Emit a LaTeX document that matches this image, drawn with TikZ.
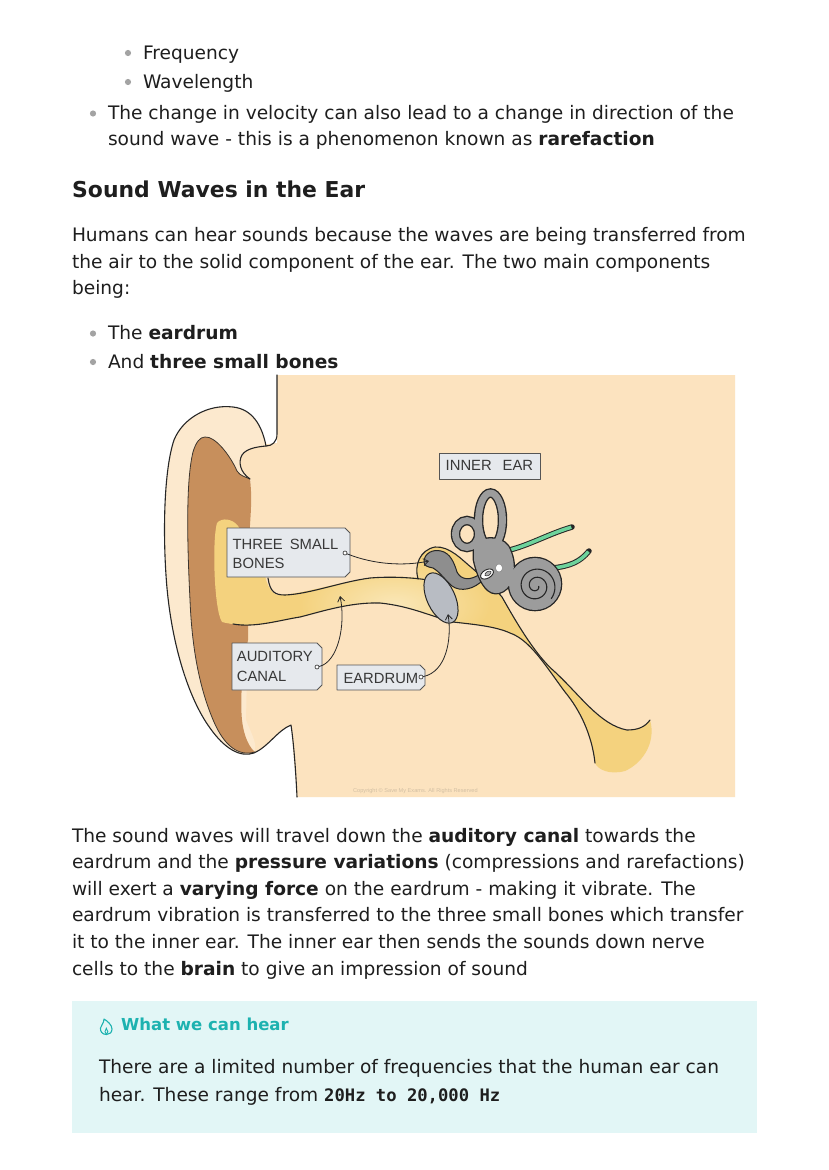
\documentclass[tikz,border=0pt]{standalone}
\usepackage{fontspec}
\usetikzlibrary{arrows.meta}
\newfontfamily\bodyfam{DejaVu Sans}
\newfontfamily\codefam{DejaVu Sans Mono}
\newfontfamily\lblfam{Liberation Sans}
\definecolor{txt}{HTML}{1E1E1E}
\definecolor{bul}{HTML}{A3A3A3}
\definecolor{face}{HTML}{FCE3BF}
\definecolor{rim}{HTML}{FCE9CE}
\definecolor{brownc}{HTML}{C78F5C}
\definecolor{canal}{HTML}{F4D27E}
\definecolor{canallight}{HTML}{FAE7B8}
\definecolor{ol}{HTML}{262626}
\definecolor{bone}{HTML}{9C9C9C}
\definecolor{drum}{HTML}{B8BCC3}
\definecolor{mall}{HTML}{8E8E8E}
\definecolor{nerve}{HTML}{6DD39C}
\definecolor{boxfill}{HTML}{E6E9ED}
\definecolor{boxline}{HTML}{555555}
\definecolor{lbltxt}{HTML}{383838}
\definecolor{callfill}{HTML}{E2F6F6}
\definecolor{tealc}{HTML}{1DB2B0}
\definecolor{copyc}{HTML}{D2BFA3}
\tikzset{
  body/.style={anchor=base west, inner sep=0pt, outer sep=0pt, text=txt,
    font=\bodyfam\fontsize{18.6}{26}\selectfont},
  headsty/.style={anchor=base west, inner sep=0pt, text=txt,
    font=\bodyfam\bfseries\fontsize{21.9}{26}\selectfont},
  lbl/.style={anchor=base west, inner sep=0pt, text=lbltxt,
    font=\lblfam\fontsize{14.8}{18}\selectfont},
  outl/.style={draw=ol, line width=1.1pt, line join=round, line cap=round},
  boxsty/.style={fill=boxfill, draw=boxline, line width=0.9pt, line join=round},
  ptr/.style={draw=ol, line width=0.8pt, -{Straight Barb[length=5pt,width=7pt]}},
  dotn/.style={circle, fill=white, draw=ol, line width=0.6pt, inner sep=0pt, minimum size=4pt},
}
\newcommand\tagbox[4]{\filldraw[boxsty] (#1,#2) -- ({#3-5},#2) -- (#3,{#2+5}) -- (#3,{#4-5}) -- ({#3-5},#4) -- (#1,#4) -- cycle;}
\begin{document}
\begin{tikzpicture}[x=1pt,y=-1pt]
\useasboundingbox (0,0) rectangle (828,1170);
\fill[white] (0,0) rectangle (828,1170);

% ---------- top text ----------
\fill[bul] (128,53) circle[radius=3.1pt];
\node[body] (t1) at (143,59) {Frequency};
\fill[bul] (128,82) circle[radius=3.1pt];
\node[body] (t2) at (143,88) {Wavelength};
\fill[bul] (93,113.5) circle[radius=3.1pt];
\node[body] (t3) at (108,119.5) {The change in velocity can also lead to a change in direction of the};
\node[body] (t4) at (108,145.5) {sound wave - this is a phenomenon known as \textbf{rarefaction}};
\node[headsty] (h1) at (72,197) {Sound Waves in the Ear};
\node[body] (p1) at (72,241.5) {Humans can hear sounds because the waves are being transferred from};
\node[body] (p2) at (72,268) {the air to the solid component of the ear. The two main components};
\node[body] (p3) at (72,294) {being:};
\fill[bul] (93,333.5) circle[radius=3.1pt];
\node[body] (b1) at (108,339.5) {The \textbf{eardrum}};
\fill[bul] (93,362) circle[radius=3.1pt];
\node[body] (b2) at (108,368) {And \textbf{three small bones}};

% ---------- diagram ----------
% face
\fill[face] (277,375) -- (735,375) -- (735,797) -- (297,797) -- (291,725)
  .. controls (278,730) and (268,747) .. (254,753) -- (238,740) -- (238,447) -- (277,443) -- cycle;
% ear rim
\fill[rim] (266,446) .. controls (262,425) and (252,409) .. (233,407)
  .. controls (208,404) and (183,418) .. (174,440)
  .. controls (164,470) and (163,530) .. (166,575)
  .. controls (170,640) and (188,698) .. (210,728)
  .. controls (224,748) and (240,758) .. (254,753)
  .. controls (258,745) and (252,735) .. (246,720) -- (251,480)
  .. controls (240,472) and (238,462) .. (242,455)
  .. controls (246,449) and (255,447) .. (266,446) -- cycle;
% brown concha
\fill[brownc] (205,437) .. controls (215,436) and (230,455) .. (237,471)
  .. controls (240,476) and (246,477) .. (250,479)
  .. controls (252,495) and (251,510) .. (250,525) -- (248,640)
  .. controls (242,670) and (240,700) .. (242,720)
  .. controls (244,738) and (250,748) .. (255,752)
  .. controls (238,757) and (224,745) .. (214,722)
  .. controls (200,690) and (192,650) .. (190,600)
  .. controls (187,540) and (186,480) .. (193,452)
  .. controls (196,442) and (200,437) .. (205,437) -- cycle;
\draw[draw=ol!85!brownc, line width=0.8pt, line join=round] (250,479) .. controls (246,477) and (240,476) .. (237,471)
  .. controls (230,455) and (215,436) .. (205,437)
  .. controls (200,437) and (196,442) .. (193,452)
  .. controls (186,480) and (187,540) .. (190,600)
  .. controls (192,650) and (200,690) .. (214,722)
  .. controls (224,745) and (238,757) .. (255,752);
% ear + head outlines
\draw[outl] (277,375) -- (277,434) .. controls (277,442) and (272,446) .. (266,446)
  .. controls (262,425) and (252,409) .. (233,407)
  .. controls (208,404) and (183,418) .. (174,440)
  .. controls (164,470) and (163,530) .. (166,575)
  .. controls (170,640) and (188,698) .. (210,728)
  .. controls (224,748) and (240,758) .. (254,753)
  .. controls (268,747) and (278,730) .. (291,725)
  .. controls (294,745) and (296,775) .. (297,797);
\draw[outl] (266,446) .. controls (255,447) and (246,449) .. (242,455)
  .. controls (238,462) and (240,472) .. (250,479);

% canal / middle ear / tube
\def\canalpath{(217,523) .. controls (222,517) and (233,519) .. (238,526) -- (262,560)
  .. controls (265,575) and (266,590) .. (277,595)
  .. controls (300,595) and (340,582) .. (370,578)
  .. controls (395,576) and (410,577) .. (418,578)
  .. controls (414,565) and (420,550) .. (435,547)
  .. controls (450,546) and (462,560) .. (472,568)
  .. controls (480,575) and (492,585) .. (502,597)
  .. controls (515,620) and (535,655) .. (555,672)
  .. controls (580,695) and (600,725) .. (627,730)
  .. controls (638,730) and (645,727) .. (650,720)
  .. controls (656,740) and (645,762) .. (625,771)
  .. controls (610,775) and (598,770) .. (595,763)
  .. controls (592,735) and (580,710) .. (565,692)
  .. controls (545,665) and (530,640) .. (510,633)
  .. controls (495,626) and (470,624) .. (453,622)
  .. controls (430,616) and (410,606) .. (380,603)
  .. controls (350,602) and (320,612) .. (300,617)
  .. controls (270,624) and (245,628) .. (222,622)
  .. controls (214,610) and (212,540) .. (217,523) -- cycle}
\fill[canal] \canalpath;
\begin{scope}
  \clip \canalpath;
  \shade[inner color=canallight, outer color=canal] (395,605) ellipse[x radius=95pt, y radius=45pt];
\end{scope}
\draw[outl] (268,578) .. controls (270,592) and (275,595) .. (285,595)
  .. controls (310,594) and (340,582) .. (370,578)
  .. controls (395,576) and (420,578) .. (440,582);
\draw[outl] (418,579) .. controls (414,565) and (420,550) .. (435,547)
  .. controls (450,546) and (462,560) .. (472,568)
  .. controls (480,575) and (492,585) .. (502,597)
  .. controls (515,620) and (535,655) .. (555,672)
  .. controls (580,695) and (600,725) .. (627,730)
  .. controls (638,730) and (645,727) .. (650,720);
\draw[outl] (233,624) .. controls (255,628) and (280,620) .. (300,617)
  .. controls (320,612) and (350,602) .. (380,603)
  .. controls (410,606) and (430,616) .. (453,622)
  .. controls (470,624) and (495,626) .. (510,633)
  .. controls (530,640) and (545,665) .. (565,692)
  .. controls (580,710) and (592,735) .. (595,763);

% ossicles
\filldraw[fill=mall, draw=ol, line width=1pt, line join=round]
  (424,562) .. controls (424,553) and (433,549) .. (441,551)
  .. controls (450,553) and (454,562) .. (457,572)
  .. controls (461,580) and (470,581) .. (480,574)
  -- (484,579)
  .. controls (474,590) and (460,592) .. (452,586)
  .. controls (445,580) and (440,572) .. (433,568)
  .. controls (428,567) and (424,566) .. (424,562) -- cycle;
\filldraw[fill=drum, draw=ol, line width=1pt, rotate around={25:(441,598)}] (441,598) ellipse[x radius=14pt, y radius=27pt];

% nerves
\draw[ol, line width=5.5pt, line cap=round] (500,552) .. controls (525,548) and (545,535) .. (572,527);
\draw[nerve, line width=3.5pt] (500,552) .. controls (525,548) and (545,535) .. (571.3,527.2);
\draw[ol, line width=5.5pt, line cap=round] (553,568) .. controls (570,566) and (580,562) .. (589,551);
\draw[nerve, line width=3.5pt] (553,568) .. controls (570,566) and (580,562) .. (588.4,551.6);

% inner ear: outlines first, then fills
\def\vestpath{(474,548) .. controls (478,536) and (500,535) .. (508,546)
  .. controls (513,555) and (515,565) .. (513,575)
  .. controls (511,590) and (497,598) .. (488,590)
  .. controls (481,584) and (476,570) .. (474,560) -- cycle}
\draw[ol, line width=9.5pt] (490.5,520) ellipse[x radius=12pt, y radius=27pt];
\draw[ol, line width=9.5pt] (467,534) ellipse[x radius=11.5pt, y radius=13.5pt];
\draw[ol, line width=2.6pt] \vestpath;
\draw[ol, line width=2.6pt] (535,584) circle[radius=26pt];
\draw[bone, line width=6.8pt] (490.5,520) ellipse[x radius=12pt, y radius=27pt];
\draw[bone, line width=6.8pt] (467,534) ellipse[x radius=11.5pt, y radius=13.5pt];
\fill[bone] \vestpath;
\fill[bone] (535,584) circle[radius=26pt];
\draw[ol, line width=1.1pt] plot[domain=0:760, samples=130, smooth] ({536+(2.5+\x/44)*cos(\x)}, {586+(2.5+\x/44)*sin(\x)});
\filldraw[fill=white, draw=ol!60, line width=0.4pt] (499,568) ellipse[x radius=3.5pt, y radius=4pt];
% stapes
\filldraw[fill=white, draw=ol, line width=0.9pt, rotate around={30:(487,574)}] (487,574) ellipse[x radius=7pt, y radius=4.2pt];
\filldraw[fill=bone!80, draw=ol, line width=0.5pt, rotate around={30:(488,573.5)}] (488,573.5) ellipse[x radius=3.5pt, y radius=2pt];

% copyright
\node[anchor=base west, inner sep=0pt, text=copyc, font=\lblfam\fontsize{5.6}{6}\selectfont] (copy) at (353,792) {Copyright \textcopyright{} Save My Exams. All Rights Reserved};

% labels
\filldraw[boxsty] (439,453) rectangle (540,479);
\node[lbl] (inner) at (445.5,470.7) {INNER\hspace{11pt}EAR};
\tagbox{227}{528}{350}{577}
\node[lbl] (bonesA) at (232.5,549.3) {THREE\hspace{7pt}SMALL};
\node[lbl] (bonesB) at (232.5,568.3) {BONES};
\tagbox{232}{643}{322}{690}
\node[lbl] (audA) at (236.7,661.7) {AUDITORY};
\node[lbl] (audB) at (236.7,681.7) {CANAL};
\tagbox{337}{665}{425}{690}
\node[lbl] (drumL) at (343.3,683.3) {EARDRUM};

% pointers
\coordinate (ossT) at (429,561);
\coordinate (canalT) at (340,596);
\coordinate (drumT) at (448,614);
\node[dotn] (bonesdot) at (345,553) {};
\node[dotn] (auddot) at (317,667) {};
\node[dotn] (drumdot) at (421,677) {};
\draw[ptr] (bonesdot) .. controls (375,565) and (405,566) .. (ossT);
\draw[ptr] (auddot) .. controls (338,662) and (346,625) .. (canalT);
\draw[ptr] (drumdot) .. controls (446,672) and (452,640) .. (drumT);

% ---------- lower text ----------
\node[body] (q1) at (72,842) {The sound waves will travel down the \textbf{auditory canal} towards the};
\node[body] (q2) at (72,868.6) {eardrum and the \textbf{pressure variations} (compressions and rarefactions)};
\node[body] (q3) at (72,895.2) {will exert a \textbf{varying force} on the eardrum - making it vibrate. The};
\node[body] (q4) at (72,921.8) {eardrum vibration is transferred to the three small bones which transfer};
\node[body] (q5) at (72,948.4) {it to the inner ear. The inner ear then sends the sounds down nerve};
\node[body] (q6) at (72,975) {cells to the \textbf{brain} to give an impression of sound};

% callout
\fill[callfill] (72,1001) rectangle (757,1133);
\draw[tealc, line width=1.1pt, line join=round] (106.5,1034.5) .. controls (102,1034.5) and (100,1031) .. (100.5,1028)
  .. controls (101,1025) and (104,1023.5) .. (104,1019)
  .. controls (107.5,1021) and (112,1025) .. (112,1029)
  .. controls (112,1032.5) and (109.5,1034.5) .. (106.5,1034.5) -- cycle;
\draw[tealc, line width=0.9pt] (106.5,1034.5) .. controls (104.5,1033) and (104.5,1030.5) .. (106.3,1028.3)
  .. controls (108.2,1030.5) and (108.5,1033) .. (106.5,1034.5);
\node[anchor=base west, inner sep=0pt, text=tealc, font=\bodyfam\bfseries\fontsize{16.5}{20}\selectfont] (ctitle) at (121,1030.7) {What we can hear};
\node[body] (c1) at (99,1073.3) {There are a limited number of frequencies that the human ear can};
\node[body] (c2) at (99,1101) {hear. These range from {\codefam\bfseries\fontsize{17.2}{20}\selectfont 20Hz to 20,000 Hz}};
\end{tikzpicture}
\end{document}
